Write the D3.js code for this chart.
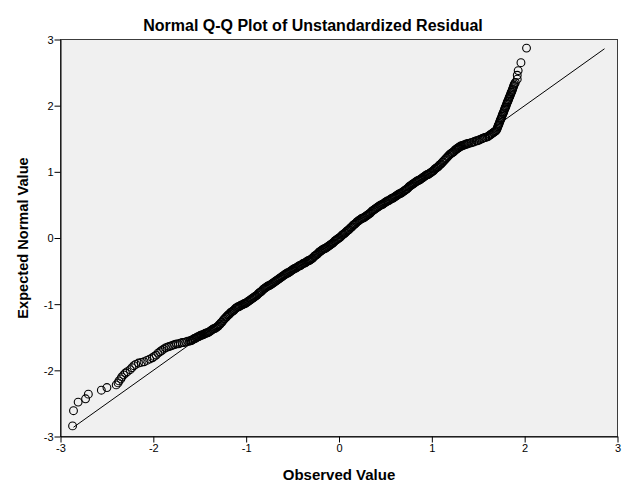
<!DOCTYPE html>
<html>
<head>
<meta charset="utf-8">
<script src="https://cdn.jsdelivr.net/npm/d3@7/dist/d3.min.js"></script>
<style>
  html, body { margin: 0; padding: 0; background: #fff; }
  svg { display: block; }
</style>
</head>
<body>
<script>
// ---- data (observed value, expected normal value) ----
const lowerTail = [
  [-2.87,-2.84],[-2.86,-2.61],[-2.81,-2.48],[-2.73,-2.43],[-2.70,-2.36],[-2.56,-2.30],
  [-2.50,-2.26],[-2.40,-2.22],[-2.38,-2.19],[-2.37,-2.16],[-2.35,-2.13],[-2.34,-2.10],
  [-2.32,-2.07],[-2.30,-2.04],[-2.28,-2.02],[-2.25,-1.99],[-2.23,-1.96],[-2.21,-1.93],
  [-2.19,-1.91],[-2.16,-1.89],[-2.13,-1.88],[-2.10,-1.87],[-2.07,-1.85],[-2.04,-1.83],
  [-2.01,-1.81],[-1.99,-1.79],[-1.97,-1.77],[-1.95,-1.74],[-1.93,-1.72],[-1.91,-1.70],
  [-1.89,-1.68],[-1.87,-1.66],[-1.85,-1.65],[-1.83,-1.64],[-1.81,-1.63],[-1.79,-1.62],
  [-1.77,-1.61],[-1.75,-1.60],[-1.73,-1.60],[-1.71,-1.59],[-1.69,-1.58],[-1.67,-1.58],
  [-1.65,-1.57],[-1.63,-1.56],[-1.61,-1.56]
];
const body = [
  [-1.60,-1.55],[-1.59,-1.55],[-1.58,-1.54],[-1.57,-1.53],[-1.56,-1.52],[-1.55,-1.52],[-1.54,-1.51],[-1.53,-1.50],[-1.52,-1.49],[-1.51,-1.49],
  [-1.50,-1.48],[-1.49,-1.47],[-1.48,-1.47],[-1.47,-1.46],[-1.46,-1.46],[-1.45,-1.45],[-1.44,-1.44],[-1.43,-1.44],[-1.42,-1.43],[-1.41,-1.43],
  [-1.40,-1.42],[-1.39,-1.41],[-1.38,-1.40],[-1.37,-1.39],[-1.36,-1.38],[-1.35,-1.37],[-1.34,-1.37],[-1.33,-1.36],[-1.32,-1.35],[-1.31,-1.34],
  [-1.30,-1.33],[-1.29,-1.31],[-1.28,-1.30],[-1.27,-1.28],[-1.26,-1.27],[-1.25,-1.25],[-1.24,-1.23],[-1.23,-1.22],[-1.22,-1.20],[-1.21,-1.19],
  [-1.20,-1.17],[-1.19,-1.16],[-1.18,-1.15],[-1.17,-1.13],[-1.16,-1.12],[-1.15,-1.11],[-1.14,-1.10],[-1.13,-1.09],[-1.12,-1.07],[-1.11,-1.06],
  [-1.10,-1.05],[-1.09,-1.04],[-1.08,-1.04],[-1.07,-1.03],[-1.06,-1.02],[-1.05,-1.01],[-1.04,-1.01],[-1.03,-1.00],[-1.02,-0.99],[-1.01,-0.99],
  [-1.00,-0.98],[-0.99,-0.97],[-0.98,-0.96],[-0.97,-0.95],[-0.96,-0.94],[-0.95,-0.93],[-0.94,-0.92],[-0.93,-0.91],[-0.92,-0.90],[-0.91,-0.89],
  [-0.90,-0.88],[-0.89,-0.87],[-0.88,-0.86],[-0.87,-0.84],[-0.86,-0.83],[-0.85,-0.82],[-0.84,-0.81],[-0.83,-0.80],[-0.82,-0.78],[-0.81,-0.77],
  [-0.80,-0.76],[-0.79,-0.75],[-0.78,-0.74],[-0.77,-0.73],[-0.76,-0.72],[-0.75,-0.72],[-0.74,-0.71],[-0.73,-0.70],[-0.72,-0.69],[-0.71,-0.68],
  [-0.70,-0.67],[-0.69,-0.66],[-0.68,-0.65],[-0.67,-0.64],[-0.66,-0.63],[-0.65,-0.62],[-0.64,-0.61],[-0.63,-0.60],[-0.62,-0.59],[-0.61,-0.58],
  [-0.60,-0.57],[-0.59,-0.56],[-0.58,-0.55],[-0.57,-0.54],[-0.56,-0.53],[-0.55,-0.53],[-0.54,-0.52],[-0.53,-0.51],[-0.52,-0.50],[-0.51,-0.49],
  [-0.50,-0.48],[-0.49,-0.47],[-0.48,-0.46],[-0.47,-0.46],[-0.46,-0.45],[-0.45,-0.44],[-0.44,-0.43],[-0.43,-0.42],[-0.42,-0.42],[-0.41,-0.41],
  [-0.40,-0.40],[-0.39,-0.39],[-0.38,-0.38],[-0.37,-0.38],[-0.36,-0.37],[-0.35,-0.36],[-0.34,-0.35],[-0.33,-0.34],[-0.32,-0.34],[-0.31,-0.33],
  [-0.30,-0.32],[-0.29,-0.31],[-0.28,-0.30],[-0.27,-0.28],[-0.26,-0.27],[-0.25,-0.26],[-0.24,-0.25],[-0.23,-0.24],[-0.22,-0.22],[-0.21,-0.21],
  [-0.20,-0.20],[-0.19,-0.19],[-0.18,-0.18],[-0.17,-0.17],[-0.16,-0.16],[-0.15,-0.16],[-0.14,-0.15],[-0.13,-0.14],[-0.12,-0.13],[-0.11,-0.12],
  [-0.10,-0.11],[-0.09,-0.10],[-0.08,-0.09],[-0.07,-0.08],[-0.06,-0.07],[-0.05,-0.05],[-0.04,-0.04],[-0.03,-0.03],[-0.02,-0.02],[-0.01,-0.01],
  [0.00,0.00],[0.01,0.01],[0.02,0.02],[0.03,0.04],[0.04,0.05],[0.05,0.06],[0.06,0.07],[0.07,0.08],[0.08,0.10],[0.09,0.11],
  [0.10,0.12],[0.11,0.13],[0.12,0.15],[0.13,0.16],[0.14,0.17],[0.15,0.19],[0.16,0.20],[0.17,0.21],[0.18,0.22],[0.19,0.24],
  [0.20,0.25],[0.21,0.26],[0.22,0.27],[0.23,0.28],[0.24,0.29],[0.25,0.30],[0.26,0.30],[0.27,0.31],[0.28,0.32],[0.29,0.33],
  [0.30,0.34],[0.31,0.35],[0.32,0.36],[0.33,0.37],[0.34,0.38],[0.35,0.40],[0.36,0.41],[0.37,0.42],[0.38,0.43],[0.39,0.44],
  [0.40,0.45],[0.41,0.46],[0.42,0.47],[0.43,0.48],[0.44,0.49],[0.45,0.50],[0.46,0.50],[0.47,0.51],[0.48,0.52],[0.49,0.53],
  [0.50,0.54],[0.51,0.55],[0.52,0.56],[0.53,0.56],[0.54,0.57],[0.55,0.58],[0.56,0.59],[0.57,0.60],[0.58,0.60],[0.59,0.61],
  [0.60,0.62],[0.61,0.63],[0.62,0.64],[0.63,0.65],[0.64,0.66],[0.65,0.67],[0.66,0.67],[0.67,0.68],[0.68,0.69],[0.69,0.70],
  [0.70,0.71],[0.71,0.72],[0.72,0.73],[0.73,0.74],[0.74,0.75],[0.75,0.77],[0.76,0.78],[0.77,0.79],[0.78,0.80],[0.79,0.81],
  [0.80,0.82],[0.81,0.83],[0.82,0.84],[0.83,0.85],[0.84,0.86],[0.85,0.87],[0.86,0.87],[0.87,0.88],[0.88,0.89],[0.89,0.90],
  [0.90,0.91],[0.91,0.92],[0.92,0.93],[0.93,0.94],[0.94,0.95],[0.95,0.96],[0.96,0.96],[0.97,0.97],[0.98,0.98],[0.99,0.99],
  [1.00,1.00],[1.01,1.01],[1.02,1.02],[1.03,1.04],[1.04,1.05],[1.05,1.06],[1.06,1.07],[1.07,1.08],[1.08,1.10],[1.09,1.11],
  [1.10,1.12],[1.11,1.14],[1.12,1.15],[1.13,1.17],[1.14,1.18],[1.15,1.20],[1.16,1.21],[1.17,1.23],[1.18,1.24],[1.19,1.26],
  [1.20,1.27],[1.21,1.28],[1.22,1.29],[1.23,1.30],[1.24,1.31],[1.25,1.33],[1.26,1.34],[1.27,1.35],[1.28,1.36],[1.29,1.37],
  [1.30,1.38],[1.31,1.39],[1.32,1.39],[1.33,1.40],[1.34,1.40],[1.35,1.41],[1.36,1.41],[1.37,1.42],[1.38,1.42],[1.39,1.43],
  [1.40,1.43]
];
const upperTail = [
  [1.42,1.44],[1.43,1.44],[1.45,1.45],[1.46,1.46],[1.48,1.47],[1.49,1.47],[1.51,1.48],[1.52,1.49],
  [1.54,1.50],[1.55,1.51],[1.57,1.52],[1.58,1.52],[1.60,1.53],[1.61,1.54],[1.62,1.55],[1.63,1.56],
  [1.64,1.57],[1.65,1.58],[1.66,1.59],[1.67,1.60],[1.68,1.61],[1.69,1.62],[1.70,1.64],
  [1.705,1.66],[1.71,1.68],[1.715,1.70],[1.72,1.71],[1.725,1.73],[1.73,1.75],[1.735,1.77],[1.74,1.79],
  [1.745,1.80],[1.75,1.82],[1.755,1.84],[1.76,1.86],[1.765,1.88],[1.77,1.89],[1.775,1.91],[1.78,1.93],
  [1.785,1.95],[1.79,1.97],[1.795,1.98],[1.80,2.00],[1.805,2.02],[1.81,2.04],[1.815,2.06],[1.82,2.07],
  [1.825,2.09],[1.83,2.11],[1.835,2.13],[1.84,2.14],[1.845,2.16],[1.85,2.18],[1.855,2.20],[1.86,2.21],
  [1.865,2.23],[1.87,2.25],[1.875,2.27],[1.88,2.29],[1.885,2.31],[1.89,2.33],[1.90,2.35],[1.92,2.40],
  [1.92,2.46],[1.93,2.53],[1.96,2.65],[2.02,2.87]
];
const xTicks = [-3, -2, -1, 0, 1, 2, 3];
const yTicks = [-3, -2, -1, 0, 1, 2, 3];
const refLine = [-2.86, 2.86];
const titleText = "Normal Q-Q Plot of Unstandardized Residual";
const xLabel = "Observed Value";
const yLabel = "Expected Normal Value";

// ---- drawing ----
(function () {
  const W = 626, H = 501;
  const pLeft = 60.5, pRight = 617.5, pTop = 39.5, pBottom = 436.5;
  const font = "'Liberation Sans', Arial, sans-serif";

  const svg = d3.select("body").append("svg").attr("width", W).attr("height", H);

  const x = d3.scaleLinear().domain([-3, 3]).range([pLeft, pRight]);
  const y = d3.scaleLinear().domain([-3, 3]).range([pBottom, pTop]);

  // plot area
  svg.append("rect")
    .attr("x", pLeft).attr("y", pTop)
    .attr("width", pRight - pLeft).attr("height", pBottom - pTop)
    .attr("fill", "#f0f0f0").attr("stroke", "#3c3c3c").attr("stroke-width", 1);

  // axes
  const gx = svg.append("g").attr("transform", `translate(0,${pBottom})`)
    .call(d3.axisBottom(x).tickValues(xTicks).tickSize(6).tickSizeOuter(0).tickFormat(d => String(d)));
  const gy = svg.append("g").attr("transform", `translate(${pLeft},0)`)
    .call(d3.axisLeft(y).tickValues(yTicks).tickSize(6).tickSizeOuter(0).tickFormat(d => String(d)));
  [gx, gy].forEach(g => {
    g.select(".domain").attr("stroke", "#000");
    g.selectAll(".tick line").attr("stroke", "#000");
    g.selectAll(".tick text").attr("fill", "#000")
      .style("font-family", font).style("font-size", "11px");
  });
  gx.selectAll(".tick text").attr("dy", "0.71em").attr("y", 8);
  gy.selectAll(".tick text").attr("x", -7).attr("dy", "0.36em");

  // reference line
  svg.append("line")
    .attr("x1", x(refLine[0])).attr("y1", y(refLine[0]))
    .attr("x2", x(refLine[1])).attr("y2", y(refLine[1]))
    .attr("stroke", "#000").attr("stroke-width", 1);

  // points
  const points = lowerTail.concat(body, upperTail);
  svg.append("g").selectAll("circle").data(points).join("circle")
    .attr("cx", d => x(d[0])).attr("cy", d => y(d[1]))
    .attr("r", 3.9).attr("fill", "none").attr("stroke", "#000").attr("stroke-width", 1.1);

  // titles
  svg.append("text").attr("x", 313).attr("y", 30.5).attr("text-anchor", "middle")
    .style("font-family", font).style("font-size", "16px").style("font-weight", "bold")
    .text(titleText);
  svg.append("text").attr("x", 339).attr("y", 480).attr("text-anchor", "middle")
    .style("font-family", font).style("font-size", "15px").style("font-weight", "bold")
    .text(xLabel);
  svg.append("text").attr("transform", `translate(28,${(pTop + pBottom) / 2}) rotate(-90)`)
    .attr("text-anchor", "middle")
    .style("font-family", font).style("font-size", "14.6px").style("font-weight", "bold")
    .text(yLabel);
})();
</script>
</body>
</html>
